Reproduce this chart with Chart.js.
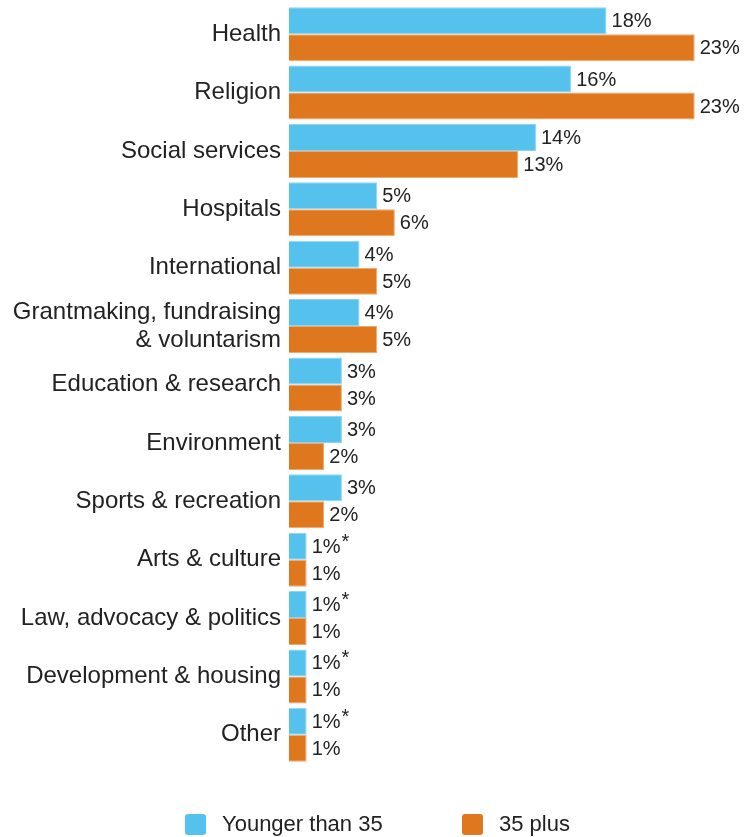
<!DOCTYPE html>
<html>
<head>
<meta charset="utf-8">
<script src="https://cdn.jsdelivr.net/npm/chart.js@4/dist/chart.umd.min.js"></script>
<style>
  html, body { margin: 0; padding: 0; background: #fff; }
  #wrap { position: relative; width: 744px; height: 837px; }
  #legend { position: absolute; left: 0; top: 812px; width: 744px; height: 24px;
            font: 22px "Liberation Sans", Arial, sans-serif; color: #222; }
  .leg-item { position: absolute; top: 0; display: flex; align-items: center; height: 24px; }
  .leg-box { width: 21px; height: 21px; border-radius: 3px; margin-right: 16px; }
</style>
</head>
<body>
<div id="wrap">
  <canvas id="chart"></canvas>
  <div id="legend"></div>
</div>
<script>
// data
const categories = [
  'Health', 'Religion', 'Social services', 'Hospitals', 'International',
  ['Grantmaking, fundraising', '& voluntarism'],
  'Education & research', 'Environment', 'Sports & recreation', 'Arts & culture',
  'Law, advocacy & politics', 'Development & housing', 'Other'
];
const youngVals  = [18, 16, 14, 5, 4, 4, 3, 3, 3, 1, 1, 1, 1];
const olderVals  = [23, 23, 13, 6, 5, 5, 3, 2, 2, 1, 1, 1, 1];
const youngNotes = ['', '', '', '', '', '', '', '', '', '*', '*', '*', '*'];
const seriesNames = ['Younger than 35', '35 plus'];

const COLORS  = ['#55c2ee', '#df771e'];
const BORDERS = ['#8fd5f3', '#eeaa6e'];
const FONT = '"Liberation Sans", Arial, sans-serif';

// value labels at bar ends, with superscript note
const valueLabels = {
  id: 'valueLabels',
  afterDatasetsDraw(chart) {
    const ctx = chart.ctx;
    ctx.save();
    ctx.fillStyle = '#222';
    ctx.textAlign = 'left';
    ctx.textBaseline = 'middle';
    chart.data.datasets.forEach((ds, di) => {
      chart.getDatasetMeta(di).data.forEach((bar, i) => {
        const txt = ds.data[i] + '%';
        const x = bar.x + 5, y = bar.y + 1;
        ctx.font = '20px ' + FONT;
        ctx.fillText(txt, x, y);
        const note = di === 0 ? youngNotes[i] : '';
        if (note) {
          const w = ctx.measureText(txt).width;
          ctx.fillText(note, x + w + 1, y - 5);
        }
      });
    });
    ctx.restore();
  }
};

new Chart(document.getElementById('chart'), {
  type: 'bar',
  data: {
    labels: categories,
    datasets: [
      { label: seriesNames[0], data: youngVals, backgroundColor: COLORS[0], borderColor: BORDERS[0], borderWidth: 1 },
      { label: seriesNames[1], data: olderVals, backgroundColor: COLORS[1], borderColor: BORDERS[1], borderWidth: 1 },
    ]
  },
  options: {
    indexAxis: 'y',
    responsive: true,
    maintainAspectRatio: false,
    animation: false,
    layout: { padding: { left: 0, right: 14, top: 5, bottom: 73 } },
    datasets: { bar: { categoryPercentage: 0.925, barPercentage: 1 } },
    plugins: { legend: { display: false }, tooltip: { enabled: false } },
    scales: {
      x: { display: false, min: 0, max: 25 },
      y: {
        grid: { display: false, drawTicks: false },
        border: { display: false },
        ticks: { color: '#222', padding: 8, autoSkip: false, font: { family: FONT, size: 24, lineHeight: 1.17 } },
        afterFit: s => { s.width = 289; s.paddingTop = 0; s.paddingBottom = 0; }
      }
    }
  },
  plugins: [valueLabels]
});

// legend
const legendPos = [185, 462];
document.getElementById('legend').innerHTML = seriesNames.map((n, i) =>
  `<div class="leg-item" style="left:${legendPos[i]}px;"><span class="leg-box" style="background:${COLORS[i]};"></span>${n}</div>`
).join('');
</script>
</body>
</html>
